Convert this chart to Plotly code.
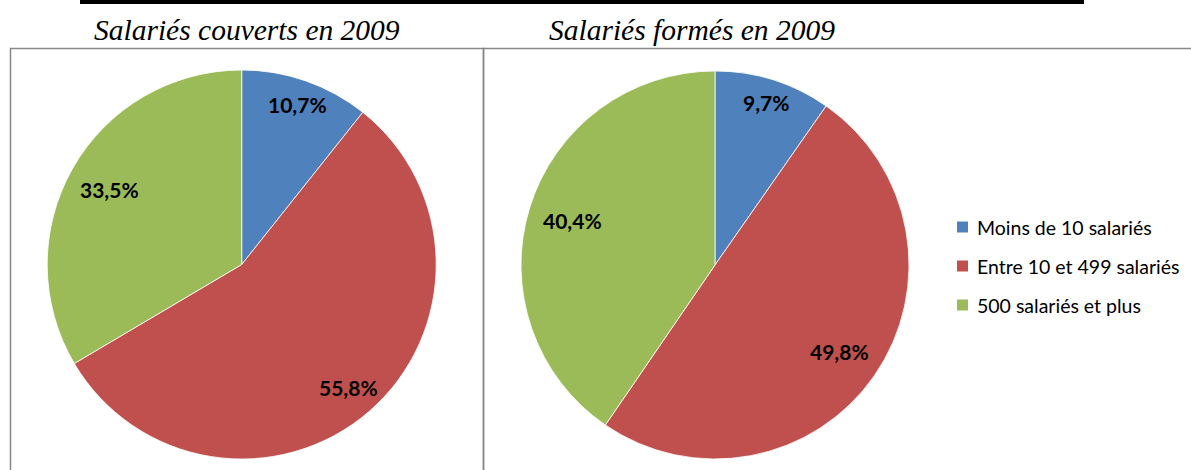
import numpy as np
import plotly.graph_objects as go

# ─── Data ─────────────────────────────────────
categories = ["Moins de 10 salariés", "Entre 10 et 499 salariés", "500 salariés et plus"]
couverts = [10.7, 55.8, 33.5]
formes = [9.7, 49.8, 40.4]
titles = ["Salariés couverts en 2009", "Salariés formés en 2009"]
colors = ["#4F81BD", "#C0504D", "#9BBB59"]

# ─── Layout constants (pixels) ───────────────
W, H = 1191, 470
pies = [
    dict(values=couverts, cx=241.7, cy=264.5, r=194.5, label_r=[0.87, 0.84, 0.78]),
    dict(values=formes, cx=715.0, cy=265.0, r=194.0, label_r=[0.88, 0.78, 0.77]),
]
title_x = [247, 692]


def px(x):
    return x / W


def py(y):
    return 1 - y / H


fig = go.Figure()
annotations = []

for p, title, tx in zip(pies, titles, title_x):
    cx, cy, r = p["cx"], p["cy"], p["r"]
    fig.add_trace(go.Pie(
        labels=categories, values=p["values"], sort=False,
        direction="clockwise", rotation=0,
        marker=dict(colors=colors, line=dict(color="white", width=0.8)),
        textinfo="none", hoverinfo="label+percent", showlegend=False,
        domain=dict(x=[px(cx - r), px(cx + r)], y=[py(cy + r), py(cy - r)]),
    ))

    # data labels placed at the slice mid-angle
    total = sum(p["values"])
    cum = 0.0
    for v, fr in zip(p["values"], p["label_r"]):
        mid = (cum + v / 2) / total * 2 * np.pi
        cum += v
        lx = cx + fr * r * np.sin(mid)
        ly = cy - fr * r * np.cos(mid)
        annotations.append(dict(
            x=px(lx), y=py(ly), xref="paper", yref="paper",
            text=f"<b>{v:.1f}%</b>".replace(".", ","), showarrow=False,
            font=dict(family="Lato, Open Sans, sans-serif", size=21, color="black"),
            xanchor="center", yanchor="middle",
        ))

    annotations.append(dict(
        x=px(tx), y=py(30), xref="paper", yref="paper",
        text=f"<i>{title}</i>", showarrow=False,
        font=dict(family="Liberation Serif, serif", size=29.5, color="black"),
        xanchor="center", yanchor="middle",
    ))

# ─── Manual legend ────────────────────────────
shapes = []
leg_y = [227, 266, 305]
for cat, col, ly in zip(categories, colors, leg_y):
    shapes.append(dict(type="rect", xref="paper", yref="paper",
                       x0=px(957), x1=px(968), y0=py(ly + 5.5), y1=py(ly - 5.5),
                       fillcolor=col, line=dict(width=0)))
    annotations.append(dict(
        x=px(975), y=py(ly), xref="paper", yref="paper", text=cat,
        showarrow=False, xanchor="left", yanchor="middle",
        font=dict(family="Lato, Open Sans, sans-serif", size=19.5, color="black"),
    ))

# ─── Frames and cut-off heading underline ─────
shapes += [
    dict(type="rect", xref="paper", yref="paper",
         x0=px(10.5), x1=px(483.5), y0=py(480), y1=py(48.5),
         line=dict(color="#878787", width=1.5), fillcolor="rgba(0,0,0,0)"),
    dict(type="rect", xref="paper", yref="paper",
         x0=px(483.5), x1=px(1200), y0=py(480), y1=py(48.5),
         line=dict(color="#878787", width=1.5), fillcolor="rgba(0,0,0,0)"),
    dict(type="rect", xref="paper", yref="paper",
         x0=px(80), x1=px(1084), y0=py(4), y1=py(-2),
         line=dict(width=0), fillcolor="black"),
]

fig.update_layout(
    width=W, height=H,
    margin=dict(l=0, r=0, t=0, b=0),
    paper_bgcolor="white", plot_bgcolor="white",
    shapes=shapes, annotations=annotations,
    showlegend=False,
)

fig.write_html("out.html", config={"displayModeBar": False},
               post_script="document.body.style.margin='0';")
